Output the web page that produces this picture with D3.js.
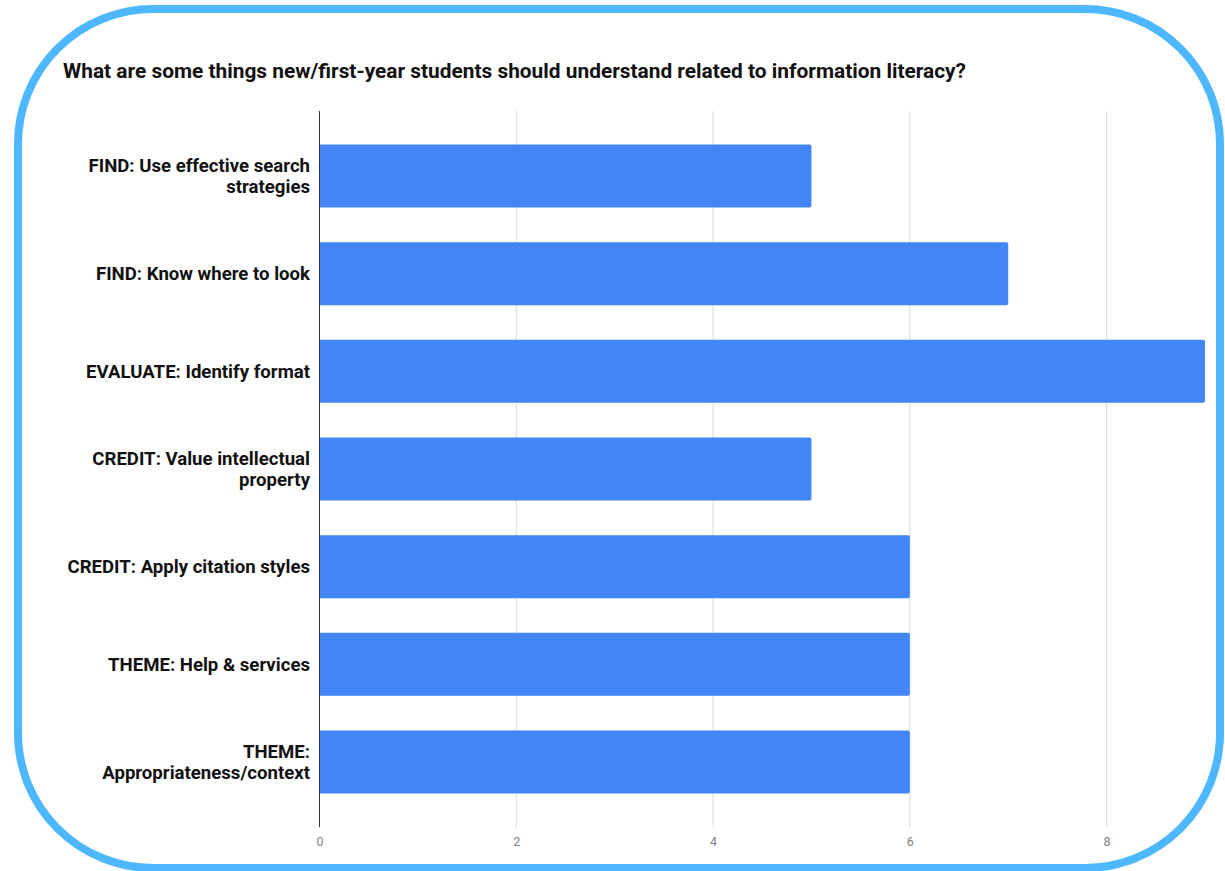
<!DOCTYPE html>
<html>
<head>
<meta charset="utf-8">
<script src="https://cdn.jsdelivr.net/npm/d3@7"></script>
<style>
  body { margin: 0; background: #fff; }
  svg { display: block; font-family: Roboto, "Noto Sans", sans-serif; }
</style>
</head>
<body>
<svg width="1225" height="871"></svg>
<script>
const title = "What are some things new/first-year students should understand related to information literacy?"
const categories = [
  ["FIND: Use effective search", "strategies"],
  ["FIND: Know where to look"],
  ["EVALUATE: Identify format"],
  ["CREDIT: Value intellectual", "property"],
  ["CREDIT: Apply citation styles"],
  ["THEME: Help & services"],
  ["THEME:", "Appropriateness/context"]
]
const values = [5, 7, 9, 5, 6, 6, 6]
const xTicks = [0, 2, 4, 6, 8]

const data = categories.map((c, i) => ({label: c, key: c.join(" "), value: values[i]}))

const svg = d3.select("svg")
const margin = {top: 111, left: 319.5, right: 20, bottom: 44}
const plotRight = 1205

// outer rounded frame
svg.append("rect")
  .attr("x", 18).attr("y", 9)
  .attr("width", 1202).attr("height", 859)
  .attr("rx", 135).attr("ry", 135)
  .attr("fill", "#fff")
  .attr("stroke", "#4db8ff")
  .attr("stroke-width", 8)

svg.append("text")
  .attr("x", 63).attr("y", 78)
  .attr("font-size", 20.8).attr("font-weight", "bold")
  .attr("fill", "#111")
  .attr("textLength", 903).attr("lengthAdjust", "spacingAndGlyphs")
  .text(title)

const x = d3.scaleLinear().domain([0, 9]).range([margin.left, plotRight])
const y = d3.scaleBand()
  .domain(data.map(d => d.key))
  .range([111, 827])
  .paddingInner(0.355)
  .paddingOuter(0.343)

// gridlines
svg.append("g")
  .selectAll("line")
  .data(xTicks.filter(t => t > 0))
  .join("line")
    .attr("x1", d => x(d)).attr("x2", d => x(d))
    .attr("y1", 111).attr("y2", 827)
    .attr("stroke", "#d9d9d9")
    .attr("stroke-width", 1)

// bars
svg.append("g")
  .selectAll("path")
  .data(data)
  .join("path")
    .attr("fill", "#4285f4")
    .attr("d", d => {
      const x0 = x(0), x1 = x(d.value), y0 = y(d.key), h = y.bandwidth(), r = 2
      return `M${x0},${y0}H${x1 - r}Q${x1},${y0} ${x1},${y0 + r}V${y0 + h - r}Q${x1},${y0 + h} ${x1 - r},${y0 + h}H${x0}Z`
    })

// zero axis line
svg.append("line")
  .attr("x1", x(0)).attr("x2", x(0))
  .attr("y1", 111).attr("y2", 827)
  .attr("stroke", "#333").attr("stroke-width", 1)

// x axis tick labels
const xAxis = svg.append("g")
  .attr("transform", "translate(0,827)")
  .call(d3.axisBottom(x).tickValues(xTicks).tickSize(0).tickPadding(10))
xAxis.select(".domain").remove()
xAxis.selectAll("text")
  .attr("font-family", "Roboto, sans-serif")
  .attr("font-size", 12.5)
  .attr("fill", "#808080")

// category labels
const lh = 21
svg.append("g")
  .selectAll("text")
  .data(data)
  .join("text")
    .attr("text-anchor", "end")
    .attr("font-size", 18.6).attr("font-weight", "bold")
    .attr("fill", "#111")
    .attr("x", 310)
    .attr("y", d => y(d.key) + y.bandwidth() / 2 - (d.label.length - 1) * lh / 2)
    .each(function(d) {
      d3.select(this).selectAll("tspan")
        .data(d.label)
        .join("tspan")
          .attr("x", 310)
          .attr("dy", (t, i) => i === 0 ? "0.35em" : lh)
          .text(t => t)
    })
</script>
</body>
</html>
